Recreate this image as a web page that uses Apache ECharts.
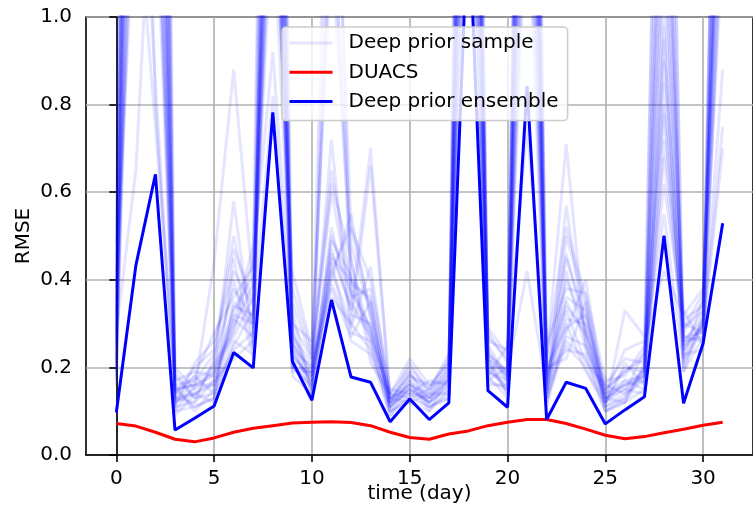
<!DOCTYPE html>
<html>
<head>
<meta charset="utf-8">
<script src="https://cdn.jsdelivr.net/npm/echarts@6/dist/echarts.min.js"></script>
<style>
html,body{margin:0;padding:0;background:#fff;}
#chart{width:753px;height:517px;}
</style>
</head>
<body>
<div id="chart"></div>
<script>
const days = [0,1,2,3,4,5,6,7,8,9,10,11,12,13,14,15,16,17,18,19,20,21,22,23,24,25,26,27,28,29,30,31];
const xTicks = [0,5,10,15,20,25,30];
const yTicks = [0.0,0.2,0.4,0.6,0.8,1.0];

const duacs = [0.072,0.066,0.052,0.036,0.030,0.039,0.052,0.061,0.067,0.073,0.075,0.076,0.074,0.067,0.052,0.040,0.036,0.048,0.055,0.067,0.075,0.081,0.081,0.072,0.059,0.045,0.037,0.042,0.051,0.059,0.068,0.075];
const ensemble = [0.097,0.433,0.641,0.057,0.084,0.112,0.234,0.199,0.782,0.214,0.125,0.354,0.178,0.166,0.076,0.128,0.081,0.119,1.25,0.147,0.109,0.842,0.081,0.166,0.152,0.071,0.103,0.133,0.501,0.118,0.255,0.529];

const sample01 = [0.22,2.6,2.1,0.12,0.14,0.16,0.31,0.27,1.9,0.21,0.15,0.42,0.30,0.24,0.11,0.15,0.12,0.16,2.2,0.19,0.17,2.0,0.14,0.26,0.22,0.11,0.14,0.17,0.95,0.22,0.30,1.6];
const sample02 = [0.30,3.5,1.6,0.15,0.11,0.13,0.25,0.33,1.5,0.26,0.14,1.35,0.38,0.29,0.13,0.12,0.14,0.14,3.0,0.22,0.14,1.7,0.18,0.35,0.27,0.13,0.12,0.19,1.4,0.27,0.26,2.4];
const sample03 = [0.18,1.9,3.2,0.10,0.16,0.19,0.40,0.22,2.4,0.24,0.20,0.38,0.27,0.35,0.10,0.17,0.10,0.18,1.8,0.17,0.20,2.6,0.12,0.30,0.19,0.12,0.17,0.15,0.85,0.25,0.33,1.4];
const sample04 = [0.42,1.3,0.75,0.18,0.13,0.21,0.28,0.45,0.92,0.30,0.22,0.62,0.45,0.21,0.14,0.13,0.15,0.21,1.6,0.25,0.18,1.3,0.16,0.45,0.31,0.15,0.19,0.22,0.62,0.30,0.28,0.88];
const sample05 = [0.25,4.8,2.5,0.13,0.18,0.14,0.35,0.30,2.8,0.20,0.16,0.47,0.33,0.70,0.12,0.19,0.11,0.13,4.0,0.20,0.15,3.2,0.20,0.22,0.35,0.10,0.13,0.20,1.9,0.19,0.31,2.2];
const sample06 = [0.35,2.2,1.8,0.20,0.15,0.44,0.88,0.38,1.4,0.33,0.14,1.6,0.52,0.40,0.15,0.14,0.13,0.19,2.4,0.27,0.22,1.9,0.22,0.71,0.25,0.14,0.16,0.18,1.05,0.28,0.35,1.75];
const sample07 = [0.16,2.9,4.0,0.11,0.12,0.17,0.22,0.26,1.7,0.19,0.19,0.72,0.28,0.26,0.09,0.16,0.12,0.15,1.5,0.16,0.16,2.3,0.11,0.28,0.40,0.12,0.21,0.16,0.78,0.23,0.24,1.3];
const sample08 = [0.28,0.65,1.5,0.14,0.20,0.24,0.50,0.29,2.1,0.27,0.21,0.40,0.55,0.31,0.12,0.21,0.14,0.20,2.7,0.23,0.19,0.42,0.15,0.33,0.21,0.16,0.14,0.24,0.55,0.21,0.29,0.75];
const sample09 = [0.48,5.5,2.0,0.16,0.10,0.15,0.33,0.41,3.5,0.23,0.17,1.9,0.35,0.28,0.11,0.18,0.16,0.17,3.6,0.18,0.25,2.8,0.17,0.40,0.29,0.11,0.33,0.27,2.2,0.26,0.27,2.5];
const sample10 = [0.20,1.6,0.85,0.12,0.17,0.20,0.27,0.36,1.25,0.29,0.15,0.45,0.40,0.35,0.10,0.13,0.11,0.14,1.9,0.21,0.14,1.5,0.13,0.50,0.34,0.13,0.15,0.14,0.72,0.31,0.34,1.15];
const sample11 = [0.32,3.0,2.7,0.09,0.14,0.12,0.45,0.24,2.6,0.22,0.18,0.36,0.30,0.66,0.13,0.15,0.12,0.18,2.5,0.24,0.17,3.5,0.19,0.24,0.23,0.10,0.12,0.21,1.6,0.24,0.30,1.85];
const sample12 = [0.24,2.0,4.5,0.17,0.19,0.18,0.30,0.48,1.6,0.30,0.26,1.15,0.44,0.27,0.14,0.20,0.15,0.22,2.0,0.28,0.21,1.6,0.25,0.38,0.37,0.17,0.18,0.25,0.80,0.29,0.37,1.5];
const sample13 = [0.38,1.45,1.3,0.13,0.12,0.22,0.38,0.31,0.82,0.25,0.20,0.42,0.52,0.33,0.12,0.14,0.17,0.16,1.4,0.19,0.16,2.1,0.14,0.57,0.26,0.12,0.20,0.19,0.90,0.33,0.25,1.25];
const sample14 = [0.19,3.8,2.3,0.15,0.16,0.16,0.24,0.28,2.3,0.24,0.16,0.52,0.32,0.30,0.11,0.17,0.13,0.17,3.3,0.22,0.18,2.5,0.16,0.31,0.30,0.14,0.17,0.18,1.7,0.20,0.32,2.0];
const sample15 = [0.27,2.4,0.80,0.11,0.21,0.26,0.42,0.34,1.8,0.35,0.22,0.60,0.36,0.38,0.13,0.16,0.14,0.20,2.3,0.26,0.24,0.75,0.21,0.46,0.28,0.15,0.19,0.23,0.68,0.27,0.28,0.70];
const sample16 = [0.45,4.2,3.0,0.19,0.13,0.14,0.29,0.39,3.0,0.28,0.18,0.49,0.41,0.25,0.10,0.12,0.10,0.15,2.8,0.17,0.15,2.9,0.18,0.36,0.33,0.11,0.13,0.20,2.4,0.22,0.36,2.3];
const sample17 = [0.21,1.75,1.45,0.12,0.15,0.19,0.58,0.25,1.6,0.20,0.19,0.39,0.29,0.43,0.12,0.19,0.13,0.19,1.7,0.20,0.20,1.8,0.12,0.42,0.24,0.13,0.16,0.17,1.2,0.25,0.29,1.35];
const sample18 = [0.33,2.7,1.9,0.14,0.18,0.28,0.36,0.43,1.5,0.38,0.23,1.25,0.48,0.32,0.14,0.22,0.16,0.21,2.6,0.23,0.19,2.2,0.20,0.29,0.32,0.16,0.22,0.21,1.3,0.29,0.33,1.65];
const sample19 = [0.17,2.3,3.6,0.10,0.11,0.13,0.26,0.23,2.2,0.18,0.14,0.44,0.26,0.23,0.09,0.14,0.11,0.13,2.1,0.18,0.13,3.0,0.13,0.25,0.20,0.10,0.12,0.15,0.98,0.19,0.27,1.7];
const sample20 = [0.40,3.2,1.4,0.16,0.17,0.23,0.47,0.35,1.35,0.42,0.24,0.65,0.39,0.36,0.13,0.18,0.15,0.23,1.55,0.29,0.23,1.4,0.23,0.52,0.36,0.14,0.24,0.26,0.42,0.32,0.38,1.45];
const sample21 = [0.26,2.1,2.4,0.13,0.14,0.17,0.32,0.30,1.95,0.23,0.17,0.46,0.34,0.27,0.11,0.15,0.12,0.16,2.35,0.21,0.17,2.0,0.15,0.27,0.25,0.12,0.15,0.18,1.15,0.24,0.30,1.55];
const sample22 = [0.29,2.8,1.7,0.15,0.16,0.18,0.34,0.32,1.75,0.26,0.18,0.50,0.37,0.29,0.12,0.16,0.13,0.17,2.2,0.22,0.18,2.4,0.17,0.34,0.28,0.13,0.16,0.19,1.5,0.26,0.31,1.8];

const samples = [sample01,sample02,sample03,sample04,sample05,sample06,sample07,sample08,sample09,sample10,sample11,sample12,sample13,sample14,sample15,sample16,sample17,sample18,sample19,sample20,sample21,sample22];

const FONT = 'DejaVu Sans';
const pairs = (vals) => days.map((d, i) => [d, vals[i]]);

const series = [];
samples.forEach((s) => {
  series.push({
    name: 'Deep prior sample', type: 'line', data: pairs(s),
    symbol: 'none', clip: true, silent: true,
    lineStyle: {color: 'rgba(0,0,255,0.1)', width: 3},
    itemStyle: {color: 'rgba(0,0,255,0.1)'},
    emphasis: {disabled: true}, animation: false
  });
});
series.push({
  name: 'DUACS', type: 'line', data: pairs(duacs), symbol: 'none', clip: true,
  lineStyle: {color: '#ff0000', width: 3}, itemStyle: {color: '#ff0000'}, animation: false
});
series.push({
  name: 'Deep prior ensemble', type: 'line', data: pairs(ensemble), symbol: 'none', clip: true,
  lineStyle: {color: '#0000ff', width: 3}, itemStyle: {color: '#0000ff'}, animation: false
});

const chart = echarts.init(document.getElementById('chart'), null, {renderer: 'canvas'});
chart.setOption({
  animation: false,
  backgroundColor: '#ffffff',
  grid: {left: 86, right: -10, top: 17, bottom: 62, show: true, borderColor: '#000', borderWidth: 1.6, containLabel: false},
  legend: {
    data: ['Deep prior sample', 'DUACS', 'Deep prior ensemble'],
    orient: 'vertical', left: 282, top: 27,
    padding: [6, 9, 9, 6],
    itemWidth: 43, itemHeight: 20, itemGap: 9.3,
    itemStyle: {opacity: 0},
    lineStyle: {width: 3},
    backgroundColor: 'rgba(255,255,255,0.8)', borderColor: '#cccccc', borderWidth: 1.5, borderRadius: 4,
    textStyle: {fontFamily: FONT, fontSize: 20, color: '#000', lineHeight: 20, padding: [0, 0, 0, 11]},
    selectedMode: false
  },
  xAxis: {
    type: 'value', min: -1.55, max: 32.55,
    name: 'time (day)', nameLocation: 'middle', nameGap: 29, nameMoveOverlap: false,
    nameTextStyle: {fontFamily: FONT, fontSize: 20, color: '#000'},
    axisLine: {show: true, lineStyle: {color: '#000', width: 1.6}},
    axisTick: {show: true, length: 7, lineStyle: {color: '#000', width: 1.6}, customValues: xTicks},
    axisLabel: {fontFamily: FONT, fontSize: 20, color: '#000', margin: 14, customValues: xTicks, formatter: (v) => String(v)},
    splitLine: {show: true, lineStyle: {color: '#b0b0b0', width: 1.6}}
  },
  yAxis: {
    type: 'value', min: 0, max: 1, interval: 0.2,
    name: 'RMSE', nameLocation: 'middle', nameGap: 52, nameRotate: 90, nameMoveOverlap: false,
    nameTextStyle: {fontFamily: FONT, fontSize: 20, color: '#000'},
    axisLine: {show: true, lineStyle: {color: '#000', width: 1.6}},
    axisTick: {show: true, length: 7, lineStyle: {color: '#000', width: 1.6}},
    axisLabel: {fontFamily: FONT, fontSize: 20, color: '#000', margin: 14, formatter: (v) => v.toFixed(1)},
    splitLine: {show: true, lineStyle: {color: '#b0b0b0', width: 1.6}}
  },
  series: series
});
</script>
</body>
</html>
